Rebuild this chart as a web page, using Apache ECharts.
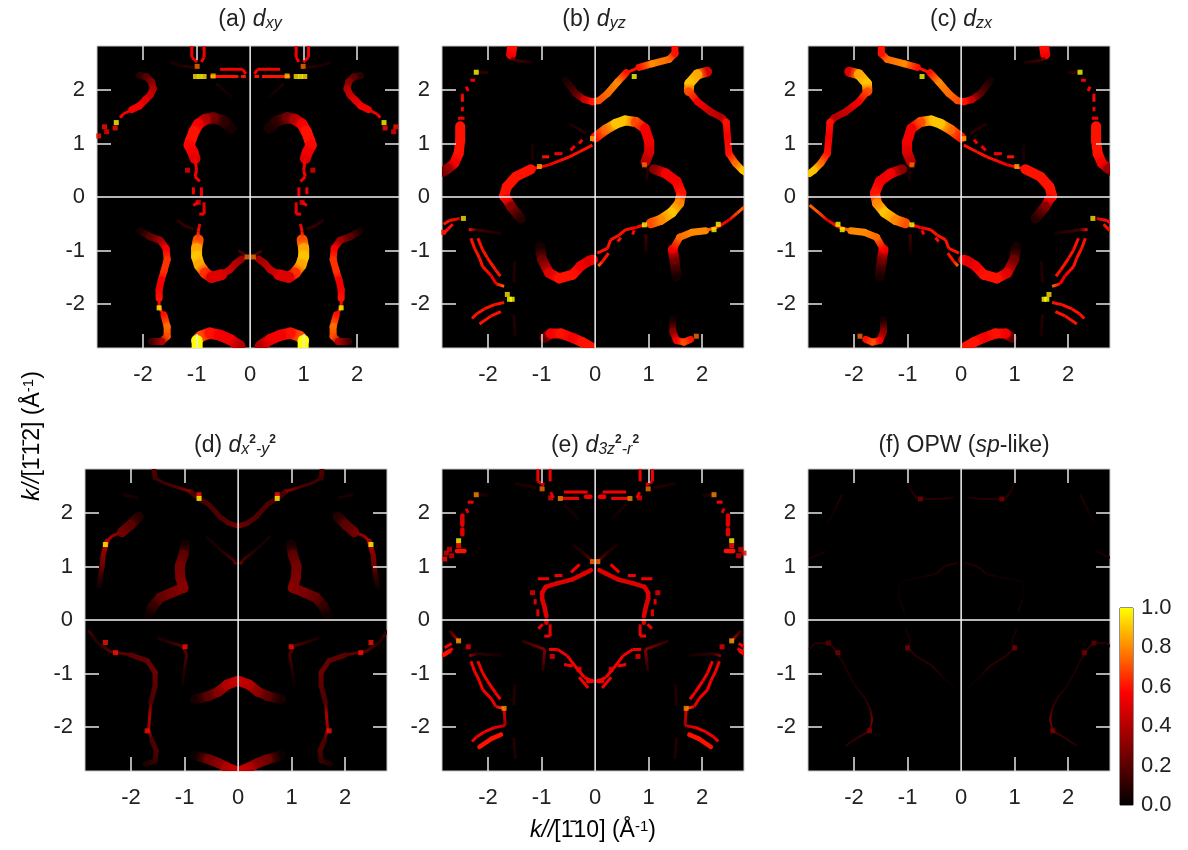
<!DOCTYPE html>
<html><head><meta charset="utf-8">
<script src="https://cdn.jsdelivr.net/npm/echarts@6/dist/echarts.min.js"></script>
<style>html,body{margin:0;padding:0;background:#fff}#c{width:1188px;height:850px}</style>
</head><body><div id="c"></div>
<script>
const xMin=-2.86, xMax=2.78, yMin=-2.82, yMax=2.82;
const tickVals=[-2,-1,1,2];
const labelVals=[-2,-1,0,1,2];
const cbarTicks=[0,0.2,0.4,0.6,0.8,1.0];
const palette=['#000000','#400000','#800000','#bf0000','#ff0000','#ff5500','#ffaa00','#ffff00'];

// (a) d_xy -- left half [k_x, k_y, weight]; the panel is mirror-symmetric
const aThick=[
 [[-.35,1.28,.05],[-.50,1.42,.1],[-.69,1.48,.25],[-.84,1.45,.4],[-.97,1.36,.55],[-1.05,1.22,.6],[-1.11,1.06,.6],[-1.14,.97,.58],[-1.07,.84,.55],[-1.03,.72,.5]],
 [[-.97,-.80,.7],[-1.0,-.96,.85],[-1.0,-1.11,.9],[-.95,-1.27,.85],[-.84,-1.42,.65],[-.72,-1.50,.5],[-.53,-1.45,.5]],
 [[-1.0,-2.68,.95],[-.92,-2.60,.7],[-.75,-2.54,.6],[-.57,-2.58,.55],[-.38,-2.66,.55],[-.19,-2.78,.4]],
 [[-.99,-2.68,1],[-.99,-2.82,1]]];
const aMid=[
 [[-2.06,2.27,.1],[-1.93,2.24,.2],[-1.84,2.15,.3],[-1.81,2.02,.4],[-1.87,1.90,.45],[-1.96,1.81,.5],[-2.07,1.70,.55],[-2.21,1.63,.55]],
 [[-.53,-1.45,.5],[-.38,-1.36,.45],[-.27,-1.24,.4],[-.16,-1.16,.35]],
 [[-2.06,-.63,.05],[-1.87,-.74,.2],[-1.68,-.81,.35],[-1.57,-.96,.55],[-1.55,-1.17,.65],[-1.61,-1.39,.65],[-1.66,-1.55,.55],[-1.70,-1.73,.55],[-1.70,-1.89,.6]],
 [[-1.61,-2.2,.6],[-1.55,-2.42,.75],[-1.55,-2.60,.7],[-1.65,-2.70,.4],[-1.84,-2.70,.15]]];
const aThin=[
 [[-2.21,1.63,.55],[-2.37,1.55,.55],[-2.43,1.48,.55]],
 [[-1.03,.72,.55],[-1.0,.50,.55],[-1.03,.38,.55],[-.94,.29,.55]],
 [[-1.06,.18,.55],[-1.06,.05,.55]],[[-.91,.18,.55],[-.91,.02,.55]],
 [[-1.09,2.82,.55],[-1.09,2.61,.55],[-.99,2.52,.55]],[[-.86,2.82,.55],[-.86,2.61,.55],[-.91,2.52,.55]],
 [[-.75,2.25,.6],[-.22,2.25,.6]],[[-.17,2.25,.6],[-.08,2.25,.6]],[[-.56,2.385,.55],[-.14,2.385,.55]],
 [[-.14,2.385,.55],[-.08,2.3,.55]],
 [[-.86,-.10,.5],[-.86,-.32,.55],[-.95,-.32,.55]],[[-1.06,-.16,.55],[-.97,-.10,.55]],
 [[-.94,-.50,.5],[-.97,-.65,.6],[-.97,-.77,.7]],
 [[-1.70,-1.89,.6],[-1.70,-2.07,.55],[-1.61,-2.2,.6]],
 [[-1.37,-.43,.08],[-1.2,-.55,.12],[-1.05,-.6,.1]],[[-1.5,2.52,.05],[-1.3,2.45,.07],[-1.05,2.42,.1]],
 [[-.63,2.12,.07],[-.5,2.0,.05],[-.33,1.85,.03]],[[-.22,-1.0,.12],[-.1,-1.08,.2]]];
const aDots=[[-2.50,1.39,1],[-2.52,1.29,.6],[-2.72,1.31,.6],[-2.83,1.14,.6],[-2.68,1.22,.55],[-.99,2.44,.75],[-.94,2.25,1],[-.86,2.25,.95],[-1.02,2.25,.95],[-.69,2.26,.9],[-1.17,.5,.55],[-.97,-.10,.55],[-.06,-1.12,.75],[-1.70,-2.07,1]];

// (b) d_yz -- full panel; (c) d_zx is its mirror image
const bThick=[
 [[-1.55,2.81,.6],[-1.57,2.66,.55]],
 [[2.09,2.34,.5],[1.91,2.29,.85],[1.76,2.12,.9],[1.75,1.98,.7]],
 [[-2.52,1.32,.6],[-2.52,1.06,.6],[-2.55,.81,.6],[-2.63,.63,.55],[-2.75,.53,.35],[-2.83,.47,.25]],
 [[0,1.11,.6],[.2,1.26,.75],[.39,1.37,.9],[.56,1.43,.9],[.76,1.40,.7],[.93,1.28,.55],[1.01,1.03,.55],[1.01,.84,.5],[.94,.66,.4]],
 [[1.10,.52,.3],[1.32,.44,.55],[1.52,.29,.55],[1.61,.07,.6],[1.57,-.12,.8],[1.43,-.29,.9],[1.22,-.43,.8],[1.04,-.49,.7]],
 [[-1.2,.52,.6],[-1.48,.38,.6],[-1.65,.19,.6],[-1.70,.02,.6],[-1.65,-.04,.55],[-1.57,-.18,.3],[-1.39,-.40,.08]],
 [[-1.03,-.93,.05],[-.99,-1.17,.25],[-.86,-1.42,.5],[-.67,-1.52,.6],[-.42,-1.45,.6],[-.27,-1.29,.55],[-.11,-1.19,.5],[-.04,-1.17,.55]],
 [[-.95,-2.63,.2],[-.83,-2.55,.55],[-.64,-2.55,.6],[-.42,-2.63,.55],[-.24,-2.71,.6],[-.08,-2.80,.6]],
 [[1.52,-1.48,.05],[1.48,-1.17,.25],[1.45,-.98,.55]]];
const bMid=[
 [[-.55,2.18,.05],[-.36,1.93,.2],[-.20,1.82,.45],[-.05,1.78,.6],[.07,1.80,.7],[.23,1.93,.75],[.42,2.15,.8],[.58,2.32,.6]],
 [[.82,2.42,.6],[1.07,2.49,.8],[1.38,2.57,.75],[1.49,2.68,.6],[1.49,2.81,.6]],
 [[1.75,1.98,.7],[1.91,1.78,.55],[2.16,1.59,.45],[2.37,1.48,.4],[2.45,1.39,.6],[2.47,1.12,.55],[2.50,.81,.6],[2.62,.63,.75],[2.75,.5,.9],[2.83,.44,.9]],
 [[1.45,-.98,.55],[1.58,-.75,.75],[1.81,-.66,.8],[2.06,-.63,.8]],
 [[1.45,-2.29,.05],[1.45,-2.51,.3],[1.52,-2.68,.55],[1.66,-2.71,.7],[1.78,-2.66,.6]]];
const bThin=[
 [[-1.57,2.6,.3],[-1.48,2.55,.15],[-1.17,2.51,.05]],
 [[-2.33,2.18,.55],[-2.24,2.18,.55]],[[-2.41,2.06,.55],[-2.37,1.98,.55]],[[-2.48,1.93,.55],[-2.48,1.78,.6]],[[-2.48,1.68,.55],[-2.48,1.60,.55]],[[-2.56,1.47,.55],[-2.44,1.47,.55]],
 [[-2.2,2.33,.12],[-2.0,2.32,.08]],
 [[.58,2.32,.6],[.82,2.42,.6]],
 [[-.05,.97,.6],[-.30,.84,.6],[-.48,.75,.6],[-.86,.60,.55],[-1.2,.52,.6]],
 [[-.99,.75,.6],[-.86,.75,.6]],[[-.76,.81,.55],[-.61,.81,.55]],[[-.46,.87,.55],[-.38,.95,.55]],[[-.3,1.0,.55],[-.24,1.07,.55]],
 [[-.48,1.37,.06],[-.17,1.19,.1]],[[-1.17,1.0,.05],[-1.17,.7,.07]],
 [[-2.53,-.40,.5],[-2.72,-.44,.6],[-2.83,-.51,.6]],[[-2.66,-.51,.6],[-2.75,-.6,.6],[-2.83,-.68,.6]],
 [[-2.36,-.61,.6],[-2.22,-.61,.15],[-1.75,-.68,.05]],
 [[-2.32,-.77,.6],[-2.25,-.96,.6],[-2.16,-1.14,.6],[-2.10,-1.30,.6],[-1.94,-1.47,.55],[-1.85,-1.62,.55],[-1.70,-1.67,.75]],
 [[-2.19,-.77,.6],[-2.10,-.99,.6],[-2.01,-1.14,.6],[-1.86,-1.36,.6],[-1.77,-1.48,.6]],
 [[-1.70,-1.97,.6],[-1.88,-2.01,.6],[-2.07,-2.09,.6],[-2.21,-2.18,.6],[-2.30,-2.27,.6]],
 [[-1.76,-2.14,.6],[-1.94,-2.22,.6],[-2.16,-2.37,.6]],
 [[-1.5,-1.2,.06],[-1.52,-1.6,.08]],[[-1.52,-2.2,.08],[-1.49,-2.6,.06]],
 [[.04,-1.05,.6],[.23,-.96,.6],[.29,-.80,.6],[.45,-.71,.6],[.57,-.61,.6],[.76,-.57,.55],[.92,-.52,.6]],
 [[.06,-1.29,.75],[.14,-1.20,.6],[.25,-1.05,.6]],[[.42,-.83,.6],[.48,-.76,.6]],[[.70,-.70,.6],[.73,-.62,.55]],
 [[2.06,-.63,.8],[2.31,-.55,.6],[2.5,-.43,.5],[2.65,-.3,.7],[2.83,-.15,.75]],
 [[.95,-.7,.15],[.95,-1.05,.05]],[[.98,.55,.1],[.96,.3,.05]]];
const bDots=[[-2.22,2.33,1],[.73,2.25,1],[-.05,1.09,.85],[.92,.6,.75],[.92,-.52,1],[-1.04,.57,.85],[-2.46,-.40,.95],[-1.55,-1.91,1],[-1.6,-1.91,1],[-1.64,-1.82,.95],[2.22,-.61,1],[2.30,-.51,1],[1.89,-2.6,.75],[-2.83,-.66,.6]];

// (d) d_x2-y2 -- left half
const dThick=[
 [[-1.86,1.93,.08],[-2.01,1.78,.2],[-2.17,1.64,.25]],
 [[-.99,1.41,.05],[-1.02,1.22,.2],[-1.09,1.01,.26],[-1.08,.79,.28],[-1.02,.60,.3],[-1.24,.51,.27],[-1.45,.42,.22],[-1.59,.26,.12],[-1.67,.11,.03]],
 [[-.80,-1.48,.05],[-.55,-1.42,.2],[-.37,-1.34,.3],[-.21,-1.21,.4],[-.02,-1.14,.45]],
 [[-.80,-2.53,.03],[-.55,-2.6,.25],[-.37,-2.67,.3],[-.21,-2.75,.4],[-.07,-2.81,.45]]];
const dMid=[
 [[-1.57,2.82,.18],[-1.55,2.65,.15]],
 [[-2.45,1.47,.4],[-2.52,1.22,.3],[-2.54,1.01,.25],[-2.57,.82,.12],[-2.60,.63,.05]],
 [[-.89,2.40,.18],[-.73,2.27,.16],[-.55,2.16,.17],[-.34,1.93,.18],[-.18,1.81,.2],[-.02,1.76,.25]],
 [[-2.01,-.65,.2],[-1.7,-.76,.22],[-1.55,-.98,.24],[-1.55,-1.23,.2],[-1.63,-1.54,.17]],
 [[-1.61,-2.25,.17],[-1.53,-2.44,.17],[-1.55,-2.63,.13],[-1.73,-2.69,.07]]];
const dThin=[
 [[-1.55,2.65,.15],[-1.39,2.56,.15],[-1.14,2.48,.18],[-.89,2.40,.3]],
 [[-2.17,1.64,.25],[-2.35,1.57,.35],[-2.45,1.47,.4]],
 [[-.61,1.57,.04],[-.34,1.32,.06],[-.09,1.12,.16],[-.04,1.04,.25]],
 [[-2.14,2.34,.07],[-1.86,2.28,.05]],
 [[-2.79,-.2,.15],[-2.63,-.42,.08],[-2.39,-.59,.2],[-2.01,-.65,.2]],
 [[-1.52,-.33,.05],[-1.27,-.42,.1],[-1.05,-.48,.18],[-.96,-.64,.18],[-1.01,-.95,.08],[-1.05,-1.26,.02]],
 [[-1.63,-1.54,.17],[-1.65,-1.76,.4],[-1.67,-2.04,.35],[-1.61,-2.25,.17]]];
const dDots=[[-.73,2.34,.6],[-.73,2.27,1],[-2.48,1.41,1],[-2.48,-.42,.6],[-2.29,-.61,.6],[-.99,-.50,.6],[-1.70,-2.07,.6]];

// (e) d_3z2-r2 -- left half
const eThick=[];
const eMid=[
 [[-.17,2.3,.55],[-.09,2.3,.55]],
 [[-.08,.93,.5],[-.2,.87,.5],[-.42,.76,.5],[-.73,.68,.5],[-.92,.62,.5],[-.99,.51,.5],[-.99,.39,.5],[-.95,.26,.5],[-.91,.07,.5]],
 [[-.91,-.05,.5],[-.91,-.02,.5]],
 [[-2.48,1.95,.5],[-2.48,1.78,.5]],[[-2.48,1.69,.5],[-2.48,1.60,.5]],
 [[-2.58,1.29,.6],[-2.44,1.29,.6]],
 [[-2.16,-2.37,.6],[-1.94,-2.22,.6],[-1.76,-2.14,.6]],
 [[-.13,-1.14,.55],[-.06,-1.14,.55]],[[-2.83,-.65,.6],[-2.72,-.58,.6]]];
const eThin=[
 [[-1.07,2.82,.55],[-1.07,2.59,.55]],[[-.84,2.82,.55],[-.84,2.59,.55]],[[-.83,2.39,.5],[-.78,2.28,.55]],[[-.95,2.52,.5],[-1.07,2.59,.5]],
 [[-.61,2.27,.55],[-.30,2.27,.55]],[[-.58,2.39,.55],[-.14,2.39,.55]],
 [[-2.38,2.2,.55],[-2.27,2.2,.55]],[[-2.41,2.08,.5],[-2.37,2.0,.5]],[[-2.2,2.34,.1],[-2.0,2.33,.05]],
 [[-.29,1.04,.55],[-.45,.89,.55]],[[-.76,.83,.55],[-.61,.83,.55]],[[-1.07,.77,.55],[-.86,.77,.55]],
 [[-1.12,.39,.5],[-1.12,.29,.5]],[[-1.07,.2,.5],[-1.07,.07,.5]],
 [[-.42,1.41,.05],[-.25,1.28,.08],[-.05,1.1,.2]],[[-.58,2.16,.06],[-.3,1.88,.03]],[[-1.5,2.55,.05],[-1.1,2.47,.08]],
 [[-.84,-.08,.5],[-.84,-.30,.55],[-.95,-.30,.55]],[[-1.06,-.16,.55],[-.98,-.08,.55]],
 [[-1.37,-.39,.08],[-.94,-.55,.3],[-.98,-.95,.08]],
 [[-.86,-.55,.55],[-.70,-.55,.55],[-.52,-.67,.55],[-.33,-.92,.55],[-.2,-1.07,.55],[-.06,-1.14,.55]],
 [[-.58,-.83,.55],[-.42,-.86,.55]],[[-.30,-1.07,.55],[-.13,-1.27,.55]],
 [[-2.68,-.44,.55],[-2.81,-.52,.55]],[[-2.66,-.53,.55],[-2.81,-.65,.6]],[[-2.35,-.67,.35],[-2.2,-.63,.1],[-1.75,-.66,.05]],
 [[-2.72,-.2,.12],[-2.55,-.39,.4]],
 [[-2.32,-.77,.55],[-2.25,-.96,.55],[-2.16,-1.14,.55],[-2.10,-1.30,.55],[-1.94,-1.47,.55],[-1.85,-1.62,.5],[-1.70,-1.65,.7]],
 [[-2.19,-.77,.55],[-2.10,-.99,.55],[-2.01,-1.14,.55],[-1.86,-1.36,.55],[-1.77,-1.48,.55]],
 [[-1.70,-1.65,.5],[-1.68,-1.97,.35]],
 [[-1.68,-1.97,.4],[-1.88,-2.01,.55],[-2.07,-2.09,.55],[-2.21,-2.18,.55],[-2.30,-2.27,.55]],
 [[-1.5,-1.2,.06],[-1.52,-1.6,.08]],[[-1.52,-2.2,.08],[-1.49,-2.6,.06]]];
const eDots=[[-.99,2.45,.75],[-.65,2.27,.8],[-.83,2.28,.55],[-2.22,2.34,.8],[-2.55,1.48,1],[-2.55,1.39,.6],[-2.72,1.32,.5],[-2.78,1.25,.5],[-2.68,1.2,.5],[-2.81,1.14,.6],[-.05,1.09,.75],[-1.17,.51,.55],[-.80,-.68,.55],[-2.55,-.39,.85],[-2.37,-.5,.55],[-1.70,-1.65,.8],[-.30,-.92,.55]];

// (f) OPW (sp-like) -- left half
const fThin=[
 [[-1.01,2.8,.03],[-1.01,2.58,.05],[-.95,2.44,.07],[-.83,2.27,.1],[-.61,2.26,.09],[-.36,2.26,.09],[-.14,2.29,.07]],
 [[-2.22,2.34,.08],[-2.3,2.19,.07],[-2.39,1.99,.04],[-2.49,1.81,.03]],[[-2.53,1.28,.05],[-2.83,1.14,.07]],
 [[-.05,1.07,.06],[-.3,1.01,.08],[-.47,.86,.06],[-.7,.81,.04],[-1.14,.72,.02],[-1.17,.44,.02],[-1.06,.16,.06]],
 [[-1.04,-.17,.06],[-.95,-.37,.05],[-1.0,-.52,.1],[-.83,-.68,.09],[-.55,-.85,.1],[-.30,-1.11,.03],[-.11,-1.27,.02]],
 [[-2.84,-.55,.06],[-2.72,-.43,.09],[-2.48,-.43,.09],[-2.38,-.52,.12],[-2.22,-.77,.07],[-2.0,-1.2,.05],[-1.79,-1.47,.09],[-1.7,-1.66,.12],[-1.66,-1.86,.28],[-1.71,-2.07,.18],[-1.94,-2.2,.11],[-2.16,-2.35,.08]]];
const fDots=[[-.76,2.26,.28],[-1.0,-.52,.28],[-2.48,-.43,.22],[-2.3,-.61,.28],[-1.71,-2.07,.3]];

const flip=p=>[-p[0],p[1],p[2]];
const mirrorStrokes=s=>s.map(r=>r.map(flip));
const both=s=>s.concat(mirrorStrokes(s));

const panels=[
 {left:97, top:46, wide:[11,7,3],thick:both(aThick), mid:both(aMid), thin:both(aThin), dots:aDots.concat(aDots.map(flip))},
 {left:442,top:46, wide:[10,7,3],thick:bThick, mid:bMid, thin:bThin, dots:bDots},
 {left:808,top:46, wide:[10,7,3],thick:mirrorStrokes(bThick), mid:mirrorStrokes(bMid), thin:mirrorStrokes(bThin), dots:bDots.map(flip)},
 {left:85, top:469,wide:[10,5,3],thick:both(dThick), mid:both(dMid), thin:both(dThin), dots:dDots.concat(dDots.map(flip))},
 {left:442,top:469,wide:[10,4.5,3],thick:both(eThick), mid:both(eMid), thin:both(eThin), dots:eDots.concat(eDots.map(flip))},
 {left:808,top:469,wide:[10,5,2],thick:[], mid:[], thin:both(fThin), dots:fDots.concat(fDots.map(flip))}
];
const titles=[
 {x:245,y:3,rich:'{n|(a) }{i|d}{s|xy}'},
 {x:589,y:3,rich:'{n|(b) }{i|d}{s|yz}'},
 {x:956,y:3,rich:'{n|(c) }{i|d}{s|zx}'},
 {x:230,y:429,rich:'{n|(d) }{i|d}{s|x}{t|2}{s|-y}{t|2}'},
 {x:590,y:429,rich:'{n|(e) }{i|d}{s|3z}{t|2}{s|-r}{t|2}'},
 {x:959,y:429,rich:'{n|(f) OPW (}{i|sp}{n|-like)}'}
];
const fam='"Liberation Sans",Arial,sans-serif', ink='#222';
const labelSize=22, titleSize=23;
const richStyles={
 n:{fontSize:titleSize,fontFamily:fam,color:ink,fontWeight:'normal'},
 i:{fontSize:titleSize,fontFamily:fam,color:ink,fontStyle:'italic',fontWeight:'normal'},
 s:{fontSize:16,fontFamily:fam,color:ink,fontStyle:'italic',fontWeight:'normal',verticalAlign:'bottom',padding:[8,0,0,0]},
 t:{fontSize:12,fontFamily:fam,color:ink,fontWeight:'bold',verticalAlign:'top',padding:[0,0,10,0]},
 u:{fontSize:15,fontFamily:fam,color:ink,fontWeight:'normal',verticalAlign:'top',padding:[0,0,8,0]}
};

function segs(strokes){
 const out=[];
 strokes.forEach(r=>{for(let i=0;i+1<r.length;i++)out.push([r[i][0],r[i][1],r[i+1][0],r[i+1][1],r[i][2],r[i+1][2]]);});
 return out;
}
function bandSeries(g,strokes,w){
 return {type:'custom',xAxisIndex:2*g,yAxisIndex:2*g,data:segs(strokes),silent:true,z:2,
  encode:{x:[0,2],y:[1,3]},
  renderItem(params,api){
   const a=api.coord([api.value(0),api.value(1)]),b=api.coord([api.value(2),api.value(3)]);
   const c=params.coordSys;
   const c1=echarts.color.lerp(api.value(4),palette),c2=echarts.color.lerp(api.value(5),palette);
   return {type:'line',shape:{x1:a[0],y1:a[1],x2:b[0],y2:b[1]},
    clipPath:{type:'rect',shape:{x:c.x,y:c.y,width:c.width,height:c.height}},
    style:{fill:null,lineWidth:w,lineCap:w>4?'round':'butt',
     stroke:new echarts.graphic.LinearGradient(a[0],a[1],b[0]+.01,b[1]+.01,[{offset:0,color:c1},{offset:1,color:c2}],true)}};
  }};
}
const grid=[],xAxis=[],yAxis=[],series=[];
panels.forEach((p,g)=>{
 grid.push({left:p.left,top:p.top,width:302,height:302,show:true,backgroundColor:'#000',borderColor:'#c8c8c8',borderWidth:1});
 const tick={show:true,inside:true,length:14,customValues:tickVals,lineStyle:{color:'#e8e8e8',width:1.5}};
 const line={show:false,onZero:false};
 xAxis.push({type:'value',gridIndex:g,min:xMin,max:xMax,position:'bottom',z:5,splitLine:{show:false},axisLine:line,axisTick:tick,
   axisLabel:{customValues:labelVals,margin:16,fontSize:labelSize,fontFamily:fam,color:ink}},
  {type:'value',gridIndex:g,min:xMin,max:xMax,position:'top',z:5,splitLine:{show:false},axisLine:line,axisTick:tick,axisLabel:{show:false}});
 yAxis.push({type:'value',gridIndex:g,min:yMin,max:yMax,position:'left',z:5,splitLine:{show:false},axisLine:line,axisTick:tick,
   axisLabel:{customValues:labelVals,margin:12,fontSize:labelSize,fontFamily:fam,color:ink}},
  {type:'value',gridIndex:g,min:yMin,max:yMax,position:'right',z:5,splitLine:{show:false},axisLine:line,axisTick:tick,axisLabel:{show:false}});
 series.push(bandSeries(g,p.thick,p.wide[0]),bandSeries(g,p.mid,p.wide[1]),bandSeries(g,p.thin,p.wide[2]));
 series.push({type:'scatter',xAxisIndex:2*g,yAxisIndex:2*g,data:p.dots,symbol:'rect',symbolSize:5,silent:true,z:3,encode:{x:0,y:1},
   itemStyle:{color:d=>echarts.color.lerp(d.value[2],palette)}});
 series.push({type:'line',xAxisIndex:2*g,yAxisIndex:2*g,data:[[xMin,0],[xMax,0]],showSymbol:false,silent:true,z:6,lineStyle:{color:'#f4f4f4',width:1.5}});
 series.push({type:'line',xAxisIndex:2*g,yAxisIndex:2*g,data:[[0,yMin],[0,yMax]],showSymbol:false,silent:true,z:6,lineStyle:{color:'#f4f4f4',width:1.5}});
});
// colour bar: a gradient rectangle on its own 0..1 axis
grid.push({left:1120,top:608,width:13,height:197,show:true,backgroundColor:'#000',borderColor:'#222',borderWidth:1});
xAxis.push({type:'value',gridIndex:6,min:0,max:1,show:false});
yAxis.push({type:'value',gridIndex:6,min:0,max:1,position:'right',splitLine:{show:false},axisLine:{show:false,onZero:false},axisTick:{show:false},
 axisLabel:{customValues:cbarTicks,margin:8,fontSize:labelSize,fontFamily:fam,color:ink,formatter:v=>v.toFixed(1)}});
series.push({type:'custom',xAxisIndex:12,yAxisIndex:12,silent:true,z:2,data:[[0,0,1,1]],encode:{x:[0,2],y:[1,3]},
 renderItem(params,api){
  const a=api.coord([api.value(0),api.value(1)]),b=api.coord([api.value(2),api.value(3)]);
  return {type:'rect',shape:{x:a[0],y:b[1],width:b[0]-a[0],height:a[1]-b[1]},
   style:{fill:new echarts.graphic.LinearGradient(0,1,0,0,palette.map((c,i)=>({offset:i/(palette.length-1),color:c})))}};
 }});

const chart=echarts.init(document.getElementById('c'),null,{renderer:'canvas'});
chart.setOption({
 animation:false,backgroundColor:'#fff',grid,xAxis,yAxis,series,
 title:titles.map(t=>({left:t.x,top:t.y,textAlign:'center',text:t.rich,textStyle:{rich:richStyles}})),
 graphic:[
  {type:'text',x:593,y:831,silent:true,style:{text:'{i|k//}{n|[1\u030410] (Å}{u|-1}{n|)}',align:'center',verticalAlign:'middle',rich:richStyles}},
  {type:'text',x:33,y:436,rotation:Math.PI/2,silent:true,style:{text:'{i|k//}{n|[1\u0304\u200a1\u0304\u200a2] (Å}{u|-1}{n|)}',align:'center',verticalAlign:'middle',rich:richStyles}}
 ]
});
</script></body></html>
